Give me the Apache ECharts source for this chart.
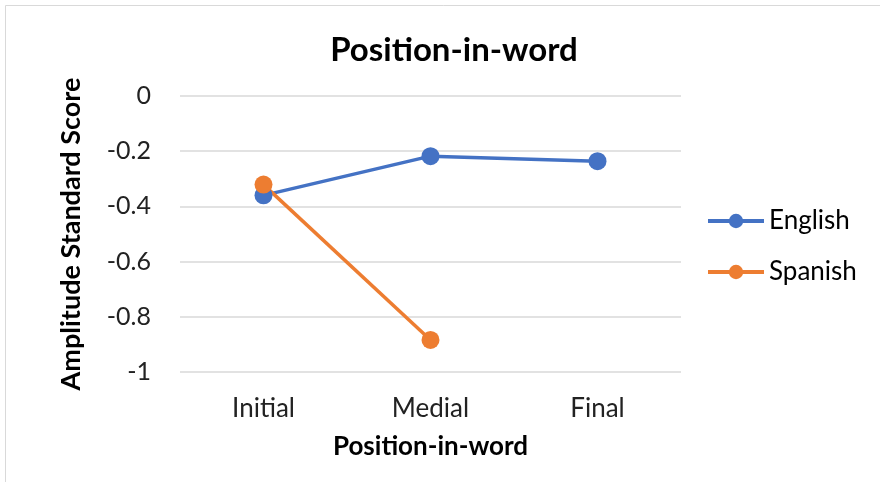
<!DOCTYPE html>
<html>
<head>
<meta charset="utf-8">
<script src="https://cdn.jsdelivr.net/npm/echarts@6/dist/echarts.min.js"></script>
<style>
  html, body { margin: 0; padding: 0; background: #fff; }
  #chart { width: 880px; height: 482px; }
</style>
</head>
<body>
<div id="chart"></div>
<script>
// Position categories and mean amplitude standard scores per language
const categories = ['Initial', 'Medial', 'Final'];
const english = [-0.36, -0.218, -0.236];
const spanish = [-0.321, -0.884, null];
const yTicks = [0, -0.2, -0.4, -0.6, -0.8, -1];

const FONT = 'Lato, "Open Sans", sans-serif';
const chart = echarts.init(document.getElementById('chart'));

chart.setOption({
  backgroundColor: '#ffffff',
  animation: false,
  title: {
    text: 'Position-in-word',
    left: 449,
    top: 29,
    textAlign: 'center',
    textStyle: { fontFamily: FONT, fontSize: 33, fontWeight: 'bold', color: '#000' }
  },
  legend: {
    orient: 'vertical',
    left: 701,
    top: 203,
    itemGap: 25,
    itemWidth: 56,
    itemHeight: 18,
    lineStyle: { width: 4 },
    textStyle: { fontFamily: FONT, fontSize: 26, color: '#000', padding: [0, 0, 0, 0] },
    data: ['English', 'Spanish']
  },
  graphic: [{
    type: 'rect',
    shape: { x: 5.5, y: 5.5, width: 900, height: 500 },
    style: { fill: 'none', stroke: '#d9d9d9', lineWidth: 1 },
    silent: true
  }],
  grid: { left: 180, right: 199, top: 96, bottom: 110, containLabel: false },
  xAxis: {
    type: 'category',
    data: categories,
    boundaryGap: true,
    axisLine: { show: false },
    axisTick: { show: false },
    axisLabel: { fontFamily: FONT, fontSize: 26, color: '#222', margin: 24 },
    name: 'Position-in-word',
    nameLocation: 'middle',
    nameGap: 62,
    nameTextStyle: { fontFamily: FONT, fontSize: 26, fontWeight: 'bold', color: '#000' }
  },
  yAxis: {
    type: 'value',
    min: -1,
    max: 0,
    interval: 0.2,
    axisLine: { show: false },
    axisTick: { show: false },
    splitLine: { lineStyle: { color: '#d9d9d9', width: 1.5 } },
    axisLabel: {
      fontFamily: FONT, fontSize: 25, color: '#222', margin: 29,
      formatter: v => {
        const r = Math.round(v * 10) / 10;
        const hit = yTicks.find(t => Math.abs(t - r) < 1e-9);
        return hit === undefined ? '' : String(hit);
      }
    },
    name: 'Amplitude Standard Score',
    nameLocation: 'middle',
    nameGap: 95,
    nameRotate: 90,
    nameTextStyle: { fontFamily: FONT, fontSize: 27, fontWeight: 'bold', color: '#000' }
  },
  series: [
    {
      name: 'English',
      type: 'line',
      data: english,
      symbol: 'circle',
      symbolSize: 18,
      lineStyle: { color: '#4472C4', width: 3.5 },
      itemStyle: { color: '#4472C4' }
    },
    {
      name: 'Spanish',
      type: 'line',
      data: spanish,
      symbol: 'circle',
      symbolSize: 18,
      lineStyle: { color: '#ED7D31', width: 3.5 },
      itemStyle: { color: '#ED7D31' }
    }
  ]
});
</script>
</body>
</html>
